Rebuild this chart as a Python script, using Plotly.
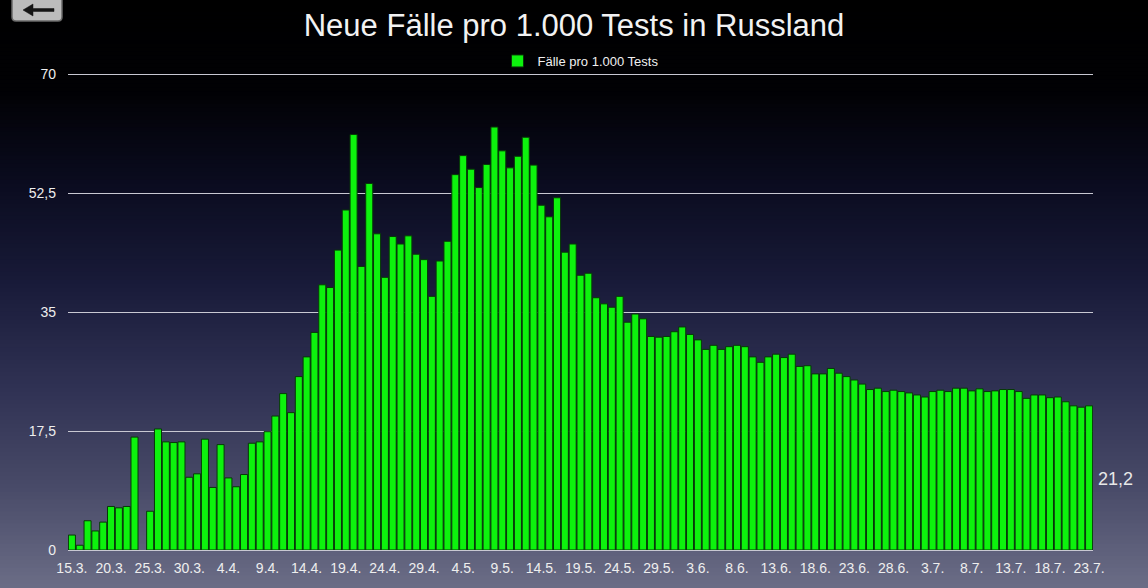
import plotly.graph_objects as go
import pandas as pd

# ---- data ----
start_date = "2020-03-15"
end_date = "2020-07-23"
dates = pd.date_range(start_date, end_date, freq="D")
day_labels = [f"{d.day}.{d.month}." for d in dates]

cases_per_1000_tests = [
    2.2, 0.7, 4.3, 2.8, 4.1, 6.4, 6.2, 6.4, 16.6, None,
    5.7, 17.8, 15.9, 15.8, 15.9, 10.7, 11.2, 16.3, 9.2, 15.5,
    10.6, 9.3, 11.1, 15.7, 15.9, 17.4, 19.7, 23.0, 20.2, 25.5,
    28.4, 32.0, 39.0, 38.6, 44.1, 50.0, 61.1, 41.7, 53.9, 46.5,
    40.1, 46.1, 45.0, 46.2, 43.5, 42.7, 37.3, 42.5, 45.4, 55.2,
    58.0, 56.0, 53.3, 56.7, 62.2, 58.7, 56.2, 57.9, 60.7, 56.6,
    50.7, 49.0, 51.8, 43.8, 45.0, 40.4, 40.7, 37.1, 36.2, 35.7,
    37.3, 33.5, 34.7, 34.0, 31.4, 31.3, 31.4, 32.1, 32.8, 31.7,
    30.9, 29.5, 30.1, 29.5, 29.9, 30.1, 29.9, 28.4, 27.6, 28.4,
    28.8, 28.3, 28.8, 27.0, 27.1, 25.9, 25.9, 26.7, 26.0, 25.5,
    25.0, 24.4, 23.6, 23.8, 23.3, 23.5, 23.3, 23.1, 22.8, 22.5,
    23.3, 23.5, 23.3, 23.8, 23.8, 23.4, 23.7, 23.3, 23.4, 23.6,
    23.6, 23.3, 22.3, 22.8, 22.8, 22.4, 22.5, 21.8, 21.2, 21.0,
    21.2,
]

y_tick_vals = [0, 17.5, 35, 52.5, 70]
y_tick_text = ["0", "17,5", "35", "52,5", "70"]
x_tick_vals = day_labels[::5]

title_text = "Neue Fälle pro 1.000 Tests in Russland"
series_name = "Fälle pro 1.000 Tests"
last_value_text = "21,2"

# ---- layout geometry (pixels) ----
W, H = 1148, 588
L, R, T, B = 68, 55, 71, 38
pw, ph = W - L - R, H - T - B
y_top = 70 * ph / (ph - 3)  # leaves 3px headroom above the 70 gridline


def xp(p):
    return (p - L) / pw


def yp(p):
    return (H - B - p) / ph


FONT = "Liberation Sans, Arial, Helvetica, sans-serif"

fig = go.Figure()
fig.add_trace(go.Bar(
    x=day_labels,
    y=cases_per_1000_tests,
    name=series_name,
    marker=dict(color="#0df20d", line=dict(color="#073807", width=1)),
    showlegend=True,
))

# gradient background bands
stops = [
    (0, (0, 0, 0)),
    (90, (1, 1, 4)),
    (180, (10, 11, 30)),
    (280, (24, 26, 56)),
    (380, (46, 48, 82)),
    (480, (70, 72, 102)),
    (588, (107, 109, 134)),
]


def col_at(p):
    for (p0, c0), (p1, c1) in zip(stops[:-1], stops[1:]):
        if p0 <= p <= p1:
            t = (p - p0) / (p1 - p0)
            return "rgb(%d,%d,%d)" % tuple(round(a + (b - a) * t) for a, b in zip(c0, c1))
    return "rgb(%d,%d,%d)" % stops[-1][1]


shapes = []
step = 4
for p in range(0, H, step):
    shapes.append(dict(
        type="rect", xref="paper", yref="paper", layer="below",
        x0=xp(-2), x1=xp(W + 2), y0=yp(p + step + 0.5), y1=yp(p - 0.5),
        fillcolor=col_at(p + step / 2), line=dict(width=0),
    ))

# back button (rounded)
bx0, bx1, by0, by1, rr = 12, 62, -6, 21, 4
path = (
    f"M {xp(bx0 + rr)} {yp(by0)} L {xp(bx1 - rr)} {yp(by0)} "
    f"Q {xp(bx1)} {yp(by0)} {xp(bx1)} {yp(by0 + rr)} L {xp(bx1)} {yp(by1 - rr)} "
    f"Q {xp(bx1)} {yp(by1)} {xp(bx1 - rr)} {yp(by1)} L {xp(bx0 + rr)} {yp(by1)} "
    f"Q {xp(bx0)} {yp(by1)} {xp(bx0)} {yp(by1 - rr)} L {xp(bx0)} {yp(by0 + rr)} "
    f"Q {xp(bx0)} {yp(by0)} {xp(bx0 + rr)} {yp(by0)} Z"
)
shapes.append(dict(
    type="path", path=path, xref="paper", yref="paper", layer="above",
    fillcolor="#bcbcbc", line=dict(color="#6a6a6a", width=1.5),
))
# arrow icon on the button
arrow = (
    f"M {xp(23)} {yp(10)} L {xp(33)} {yp(4)} L {xp(33)} {yp(8.5)} "
    f"L {xp(54)} {yp(8.5)} L {xp(54)} {yp(11.5)} L {xp(33)} {yp(11.5)} "
    f"L {xp(33)} {yp(16)} Z"
)
shapes.append(dict(
    type="path", path=arrow, xref="paper", yref="paper", layer="above",
    fillcolor="#151515", line=dict(color="#151515", width=0.5),
))

fig.update_layout(
    width=W, height=H,
    margin=dict(l=L, r=R, t=T, b=B),
    paper_bgcolor="#000000",
    plot_bgcolor="rgba(0,0,0,0)",
    font=dict(family=FONT, color="#eeeeee", size=14),
    title=dict(text=title_text, x=0.5, xanchor="center", y=1 - 25 / H, yanchor="middle",
               font=dict(family=FONT, size=31, color="#f2f2f2")),
    legend=dict(orientation="h", x=0.5, xanchor="center", y=yp(61), yanchor="middle",
                bgcolor="rgba(0,0,0,0)", font=dict(size=13, color="#f0f0f0"),
                itemwidth=30),
    bargap=0.1,
    shapes=shapes,
    annotations=[
        dict(text=last_value_text, xref="paper", yref="paper", x=xp(1096), y=yp(479),
             xanchor="left", yanchor="middle", showarrow=False,
             font=dict(family=FONT, size=18, color="#e8e8e8")),
    ],
)

fig.update_xaxes(
    type="category",
    tickmode="array", tickvals=x_tick_vals, ticktext=x_tick_vals,
    tickangle=0,
    showgrid=False, zeroline=False, showline=False,
    ticks="", ticklabelstandoff=8, tickfont=dict(size=14, color="#eeeeee"),
    range=[-0.5, len(day_labels) - 0.5],
)
fig.update_yaxes(
    range=[0, y_top],
    tickmode="array", tickvals=y_tick_vals, ticktext=y_tick_text,
    showgrid=True, gridcolor="#c8c8d2", gridwidth=1,
    zeroline=True, zerolinecolor="#c8c8d2", zerolinewidth=1,
    showline=False, ticks="", ticklabelstandoff=11,
    tickfont=dict(size=14, color="#eeeeee"),
)

fig.write_html(
    "out.html",
    config={"displayModeBar": False},
    post_script="document.body.style.margin='0';document.body.style.padding='0';",
)
